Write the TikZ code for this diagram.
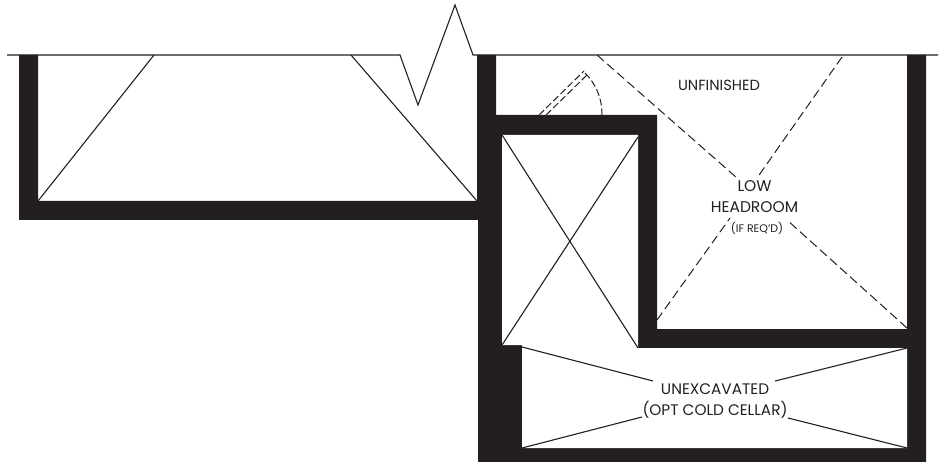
\documentclass[tikz,border=0pt]{standalone}
\usepackage{fontspec}
\setmainfont{Poppins}
\definecolor{ink}{HTML}{231F20}
\tikzset{
  wallfill/.style={fill=ink,draw=none},
  thin line/.style={draw=ink,line width=1.1pt},
  dash line/.style={draw=ink,line width=1pt,dash pattern=on 9pt off 4.5pt},
  door line/.style={draw=ink,line width=1pt,dash pattern=on 7pt off 3pt},
  label/.style={text=ink,inner sep=0pt,align=center}
}
\begin{document}
\begin{tikzpicture}[x=1pt,y=-1pt]
\useasboundingbox (0,0) rectangle (944,462);
% walls
\fill[wallfill] (19,55) -- (38,55) -- (38,201) -- (477,201) -- (477,55) -- (496,55) -- (496,115) -- (657,115) -- (657,329) -- (907,329) -- (907,55) -- (926,55) -- (926,462) -- (478,462) -- (478,220) -- (19,220) -- cycle;
% openings in the wall mass
\fill[white] (502,135) -- (638,135) -- (638,348) -- (907,348) -- (907,448) -- (522,448) -- (522,345) -- (502,345) -- cycle;
% top line with break
\draw[thin line] (7,55) -- (400,55) -- (418,105) -- (455,5) -- (473,55) -- (938,55);
% left room
\draw[thin line] (38,201) -- (154,55);
\draw[thin line] (351,55) -- (477,201);
% stair box
\draw[thin line] (502,135) -- (638,348);
\draw[thin line] (638,137) -- (502,345);
% labels
\node[label,font=\fontsize{14.7}{14}\selectfont] (unf) at (719,85) {UNFINISHED};
\node[label,font=\fontsize{15.5}{21}\selectfont] (low) at (754.5,197) {LOW\\HEADROOM};
\node[label,font=\fontsize{11}{10}\selectfont] (req) at (757,228) {(IF REQ'D)};
\node[label,font=\fontsize{15.3}{21}\selectfont] (une) at (715,401) {UNEXCAVATED\\(OPT COLD CELLAR)};
% cold cellar cross
\coordinate (cc1) at (653,381);\coordinate (cc2) at (775,381);\coordinate (cc3) at (642,417);\coordinate (cc4) at (788,418);
\draw[thin line] (522,347) -- (cc1);
\draw[thin line] (907,348) -- (cc2);
\draw[thin line] (522,448) -- (cc3);
\draw[thin line] (907,448) -- (cc4);
% low headroom dashed cross
\coordinate (lh1) at (737,178);\coordinate (lh2) at (757,178);\coordinate (lh3) at (730,218);\coordinate (lh4) at (787,220);
\draw[dash line] (597,55) -- (lh1);
\draw[dash line] (842,57) -- (lh2);
\draw[dash line] (657,320) -- (lh3);
\draw[dash line] (907,328) -- (lh4);
% door swing
\draw[door line] (539,115) -- (584,71);
\draw[door line] (546,115) -- (587,75);
\draw[door line] (585,73) .. controls (596,84) and (602,98) .. (602,115);
\end{tikzpicture}
\end{document}
